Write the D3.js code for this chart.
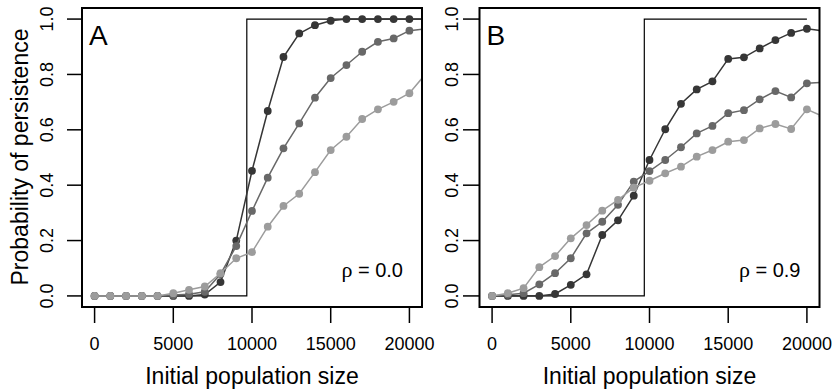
<!DOCTYPE html>
<html>
<head>
<meta charset="utf-8">
<script src="https://cdn.jsdelivr.net/npm/d3@7"></script>
<style>
  body { margin: 0; background: #fff; }
  svg text { font-family: "Liberation Sans", Arial, Helvetica, sans-serif; fill: #000; }
</style>
</head>
<body>
<div id="chart"></div>
<script>
// population sizes (last one sits just past the plot edge and gets clipped)
const popSize = [0, 1000, 2000, 3000, 4000, 5000, 6000, 7000, 8000, 9000, 10000,
                 11000, 12000, 13000, 14000, 15000, 16000, 17000, 18000, 19000, 20000, 21000];

// panel A, rho = 0.0
const aDark   = [0, 0, 0, 0, 0, 0, 0, 0.005, 0.05, 0.20, 0.452, 0.668, 0.863, 0.948, 0.978, 0.994, 1, 1, 1, 1, 1, 1];
const aMedium = [0, 0, 0, 0, 0, 0.003, 0.006, 0.015, 0.079, 0.18, 0.307, 0.427, 0.533, 0.623, 0.716, 0.787, 0.834, 0.882, 0.918, 0.93, 0.958, 0.965];
const aLight  = [0, 0, 0, 0, 0, 0.01, 0.022, 0.034, 0.082, 0.136, 0.158, 0.25, 0.325, 0.369, 0.447, 0.527, 0.575, 0.639, 0.674, 0.701, 0.732, 0.80];

// panel B, rho = 0.9
const bDark   = [0, 0, 0, 0, 0.007, 0.04, 0.078, 0.22, 0.273, 0.362, 0.491, 0.602, 0.694, 0.746, 0.775, 0.856, 0.862, 0.894, 0.924, 0.95, 0.965, 0.957];
const bMedium = [0, 0.004, 0.01, 0.042, 0.082, 0.136, 0.226, 0.268, 0.329, 0.413, 0.451, 0.491, 0.537, 0.587, 0.614, 0.66, 0.671, 0.71, 0.74, 0.717, 0.768, 0.771];
const bLight  = [0, 0.01, 0.028, 0.104, 0.144, 0.208, 0.256, 0.308, 0.347, 0.391, 0.416, 0.443, 0.467, 0.503, 0.527, 0.557, 0.563, 0.605, 0.621, 0.603, 0.674, 0.649];

// deterministic threshold (step)
const stepAt = 9670;
const stepEndA = 21000;
const stepEndB = 20000;

const xTicks = [0, 5000, 10000, 15000, 20000];
const yTicks = [0, 0.2, 0.4, 0.6, 0.8, 1.0];

const seriesColors = ["#363636", "#686868", "#9c9c9c"];

const svg = d3.select("#chart").append("svg")
    .attr("width", 833)
    .attr("height", 391);

function drawPanel(opts) {
    const { left, right, top, bottom, series, stepEnd, letter, rhoValue, id, yLabelX, yTickStart } = opts;

    const x = d3.scaleLinear().domain([-800, 20800]).range([left, right]);
    const y = d3.scaleLinear().domain([-0.04, 1.04]).range([bottom, top]);

    svg.append("clipPath")
        .attr("id", id)
        .append("rect")
        .attr("x", left).attr("y", top)
        .attr("width", right - left).attr("height", bottom - top);

    const plot = svg.append("g").attr("clip-path", `url(#${id})`);

    // step line
    const stepPts = [[0, 0], [stepAt, 0], [stepAt, 1], [stepEnd, 1]];
    plot.append("path")
        .attr("d", d3.line().x(d => x(d[0])).y(d => y(d[1]))(stepPts))
        .attr("fill", "none")
        .attr("stroke", "#000")
        .attr("stroke-width", 1.2);

    // series: dark first, light on top
    series.forEach((vals, i) => {
        const pts = popSize.map((p, j) => [p, vals[j]]);
        plot.append("path")
            .attr("d", d3.line().x(d => x(d[0])).y(d => y(d[1]))(pts))
            .attr("fill", "none")
            .attr("stroke", seriesColors[i])
            .attr("stroke-width", 1.5);
        plot.append("g")
            .selectAll("circle")
            .data(pts)
            .enter()
            .append("circle")
              .attr("cx", d => x(d[0]))
              .attr("cy", d => y(d[1]))
              .attr("r", 3.9)
              .style("fill", seriesColors[i]);
    });

    // box
    svg.append("rect")
        .attr("x", left).attr("y", top)
        .attr("width", right - left).attr("height", bottom - top)
        .attr("fill", "none")
        .attr("stroke", "#000")
        .attr("stroke-width", 2);

    // x axis ticks + labels
    const xAxis = svg.append("g");
    xAxis.selectAll("line")
        .data(xTicks)
        .enter()
        .append("line")
          .attr("x1", d => x(d)).attr("x2", d => x(d))
          .attr("y1", bottom).attr("y2", bottom + 16)
          .attr("stroke", "#000").attr("stroke-width", 1.5);
    xAxis.selectAll("text")
        .data(xTicks)
        .enter()
        .append("text")
          .attr("x", d => x(d))
          .attr("y", 350)
          .attr("text-anchor", "middle")
          .style("font-size", "18px")
          .text(d => d);

    // y axis ticks + labels (rotated, R style)
    const yAxis = svg.append("g");
    yAxis.selectAll("line")
        .data(yTicks)
        .enter()
        .append("line")
          .attr("x1", yTickStart).attr("x2", left)
          .attr("y1", d => y(d)).attr("y2", d => y(d))
          .attr("stroke", "#000").attr("stroke-width", 1.5);
    yAxis.selectAll("text")
        .data(yTicks)
        .enter()
        .append("text")
          .attr("transform", d => `translate(${yLabelX},${y(d)}) rotate(-90)`)
          .attr("text-anchor", "middle")
          .style("font-size", "18px")
          .text(d => d.toFixed(1));

    // x axis title
    svg.append("text")
        .attr("x", (left + right) / 2)
        .attr("y", 384)
        .attr("text-anchor", "middle")
        .style("font-size", "23px")
        .text("Initial population size");

    // panel letter
    svg.append("text")
        .attr("x", left + 7)
        .attr("y", 45)
        .style("font-size", "28px")
        .text(letter);

    // rho label, greek letter in a serif face like R's symbol font
    const rho = svg.append("text")
        .attr("x", right - 19)
        .attr("y", 277)
        .attr("text-anchor", "end")
        .style("font-size", "20px");
    rho.append("tspan")
        .style("font-family", "'Liberation Serif', 'DejaVu Serif', serif")
        .style("font-size", "22px")
        .text("\u03C1");
    rho.append("tspan").text(" = " + rhoValue);
}

drawPanel({
    id: "clipA", left: 82, right: 422, top: 8, bottom: 307,
    series: [aDark, aMedium, aLight], stepEnd: stepEndA,
    letter: "A", rhoValue: "0.0", yLabelX: 53, yTickStart: 67
});

drawPanel({
    id: "clipB", left: 479.5, right: 819.5, top: 8, bottom: 307,
    series: [bDark, bMedium, bLight], stepEnd: stepEndB,
    letter: "B", rhoValue: "0.9", yLabelX: 458, yTickStart: 463
});

// y axis title, only on the left panel
svg.append("text")
    .attr("transform", "translate(28,157) rotate(-90)")
    .attr("text-anchor", "middle")
    .style("font-size", "23px")
    .text("Probability of persistence");
</script>
</body>
</html>
